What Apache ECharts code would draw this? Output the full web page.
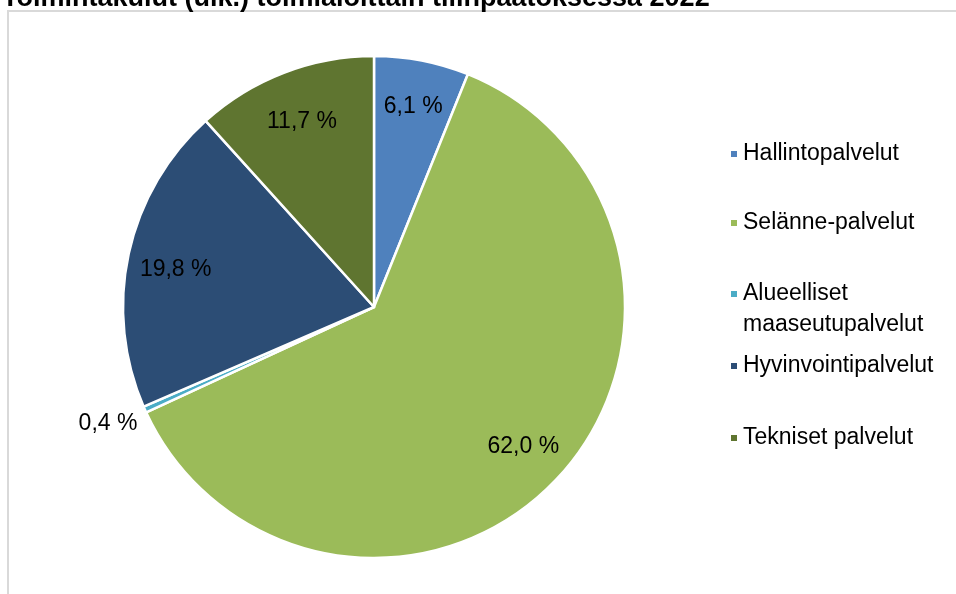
<!DOCTYPE html>
<html>
<head>
<meta charset="utf-8">
<script src="https://cdn.jsdelivr.net/npm/echarts@6/dist/echarts.min.js"></script>
<style>
    html, body { margin: 0; padding: 0; background: #fff; }
    #chart { width: 956px; height: 594px; }
</style>
</head>
<body>
<div id="chart"></div>
<script>
    const chartTitle = 'Toimintakulut (ulk.) toimialoittain tilinpäätöksessä 2022';
    const categories = ['Hallintopalvelut', 'Selänne-palvelut', 'Alueelliset\nmaaseutupalvelut', 'Hyvinvointipalvelut', 'Tekniset palvelut'];
    const shares = [6.1, 62.0, 0.4, 19.8, 11.7];
    const outsideLabels = [false, false, true, false, false];

    const colors = ['#4F81BD', '#9BBB59', '#4BACC6', '#2C4D75', '#5F7530'];
    const legendCenters = [154, 223, 294, 366, 438];
    // small nudges so the inside labels sit where Excel put them
    const labelNudge = [[0, 2], [0, -2], [0, 0], [3, 6], [2, 7]];
    const font = "'Liberation Sans', Arial, sans-serif";

    let fmt = function (v) {
        return v.toFixed(1).replace('.', ',') + ' %';
    };

    let sliceData = categories.map(function (name, i) {
        return {
            name: name,
            value: shares[i],
            itemStyle: { color: colors[i] },
            label: { show: outsideLabels[i] }
        };
    });
    let labelData = categories.map(function (name, i) {
        return {
            name: name,
            value: shares[i],
            label: { show: !outsideLabels[i] }
        };
    });

    // one legend per entry so the uneven Excel spacing can be kept
    let legends = categories.map(function (name, i) {
        let multi = name.indexOf('\n') >= 0;
        return {
            data: [name],
            orient: 'vertical',
            left: 729,
            top: legendCenters[i] - (multi ? 46.5 : 15.5),
            padding: 0,
            icon: 'rect',
            itemWidth: 8,
            itemHeight: 8,
            selectedMode: false,
            // empty first line keeps the marker beside the first text line
            formatter: multi ? function (n) { return ' \n' + n; } : '{name}',
            textStyle: {
                fontFamily: font,
                fontSize: 23,
                color: '#000',
                lineHeight: 31
            }
        };
    });

    let option = {
        animation: false,
        backgroundColor: '#fff',
        title: {
            text: chartTitle,
            left: -3,
            top: -20,
            textStyle: { fontFamily: font, fontSize: 27, fontWeight: 'bold', color: '#000' }
        },
        graphic: [{
            type: 'rect',
            shape: { x: 8, y: 11, width: 1200, height: 1000 },
            style: { fill: 'none', stroke: '#d9d9d9', lineWidth: 2 },
            silent: true
        }],
        legend: legends,
        series: [
            {
                name: 'slices',
                type: 'pie',
                center: [374, 307],
                radius: [0, 251],
                startAngle: 90,
                clockwise: true,
                avoidLabelOverlap: false,
                itemStyle: { borderColor: '#fff', borderWidth: 2.5 },
                label: {
                    position: 'outside',
                    fontFamily: font,
                    fontSize: 23,
                    color: '#000',
                    formatter: function (p) { return fmt(p.value); }
                },
                labelLine: { show: false, length: 6, length2: 0 },
                labelLayout: function () { return { dx: 3, dy: 12 }; },
                emphasis: { disabled: true },
                data: sliceData
            },
            {
                name: 'labels',
                type: 'pie',
                center: [374, 307],
                radius: [155, 251],
                startAngle: 90,
                clockwise: true,
                silent: true,
                avoidLabelOverlap: false,
                itemStyle: { color: 'rgba(0,0,0,0)', borderWidth: 0 },
                label: {
                    position: 'inside',
                    fontFamily: font,
                    fontSize: 23,
                    color: '#000',
                    formatter: function (p) { return fmt(p.value); }
                },
                labelLine: { show: false },
                labelLayout: function (p) {
                    let n = labelNudge[p.dataIndex];
                    return { dx: n[0], dy: n[1] };
                },
                emphasis: { disabled: true },
                data: labelData
            }
        ]
    };

    let chart = echarts.init(document.getElementById('chart'));
    chart.setOption(option);
</script>
</body>
</html>
